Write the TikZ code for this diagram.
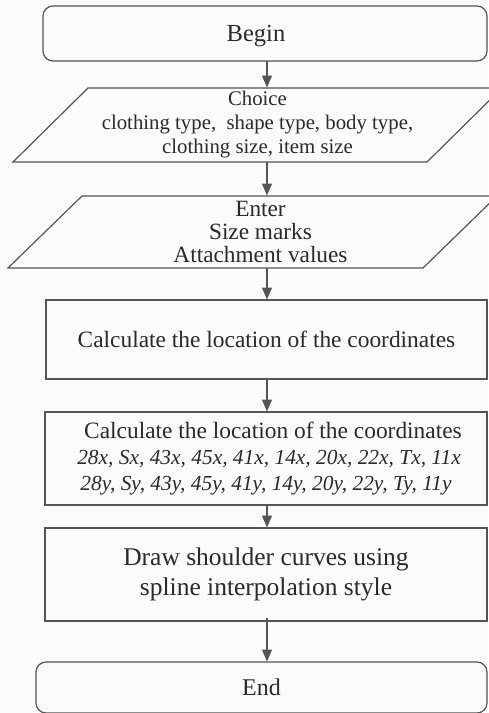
\documentclass[tikz,border=0pt]{standalone}
\usepackage{fontspec}
\setmainfont{Liberation Serif}
\usetikzlibrary{arrows.meta,calc}
\definecolor{linec}{HTML}{555555}
\definecolor{textc}{HTML}{2A2A2A}
\definecolor{bgc}{HTML}{FBFBFB}
\begin{document}
\begin{tikzpicture}[x=1pt,y=-1pt,
  every node/.style={text=textc,align=center,inner sep=0pt,outer sep=0pt},
  boxs/.style={draw=linec,line width=1.2pt,rectangle},
  terms/.style={draw=linec,line width=1.2pt,rectangle,rounded corners=10pt},
  iobox/.style={rectangle,draw=none},
  para/.style={draw=linec,line width=1.2pt},
  arr/.style={draw=linec,line width=1.2pt,-{Triangle[length=12pt,width=10pt]},shorten >=0.5pt}]
\fill[bgc] (0,0) rectangle (488,713);
\useasboundingbox (0,0) rectangle (488,713);
\coordinate (ax) at (267,0);
% Begin
\node[terms,minimum width=444pt,minimum height=55pt,font=\fontsize{24.5}{28}\selectfont,text depth=0pt] (begin) at (265,33.5)
  {\hspace*{-18pt}Begin};
% Choice (parallelogram)
\node[iobox,minimum width=414pt,minimum height=74pt,font=\fontsize{20.8}{24}\selectfont] (choice) at (257.5,125)
  {Choice\\ clothing type,\ \ shape type, body type,\\ clothing size, item size};
\draw[para] ($(choice.north west)+(37.5,0)$) -- ($(choice.north east)+(37.5,0)$)
  -- ($(choice.south east)-(37.5,0)$) -- ($(choice.south west)-(37.5,0)$) -- cycle;
% Enter (parallelogram)
\node[iobox,minimum width=415pt,minimum height=72pt,font=\fontsize{23.3}{23}\selectfont] (enter) at (252.5,232)
  {\hspace*{16pt}Enter\\ \hspace*{16pt}Size marks\\ \hspace*{16pt}Attachment values};
\draw[para] ($(enter.north west)+(37,0)$) -- ($(enter.north east)+(37,0)$)
  -- ($(enter.south east)-(37,0)$) -- ($(enter.south west)-(37,0)$) -- cycle;
% Calculate 1
\node[boxs,minimum width=441pt,minimum height=79pt,font=\fontsize{23.4}{27}\selectfont] (calc1) at (266.5,339.5)
  {Calculate the location of the coordinates};
% Calculate 2
\node[boxs,minimum width=442pt,minimum height=93pt,font=\fontsize{23.4}{26}\selectfont] (calc2) at (266,458.5)
  {\hspace*{14pt}Calculate the location of the coordinates\\
   \hspace*{6pt}{\fontsize{21.4}{26}\selectfont\itshape 28x, Sx, 43x, 45x, 41x, 14x, 20x, 22x, Tx, 11x}\\
   {\fontsize{21.4}{26}\selectfont\itshape 28y, Sy, 43y, 45y, 41y, 14y, 20y, 22y, Ty, 11y}};
% Draw
\node[boxs,minimum width=442pt,minimum height=93pt,font=\fontsize{25.5}{30}\selectfont] (drawc) at (266,574.5)
  {Draw shoulder curves using\\ spline interpolation style};
% End
\node[terms,minimum width=451pt,minimum height=51pt,font=\fontsize{24}{28}\selectfont] (endn) at (261.5,687.5)
  {End};
% connectors
\draw[arr] (begin.south -| ax) -- (choice.north -| ax);
\draw[arr] (choice.south -| ax) -- (enter.north -| ax);
\draw[arr] (enter.south -| ax) -- (calc1.north -| ax);
\draw[arr] (calc1.south -| ax) -- (calc2.north -| ax);
\draw[arr] (calc2.south -| ax) -- (drawc.north -| ax);
\draw[arr] ([yshift=3pt]drawc.south -| ax) -- (endn.north -| ax);
\end{tikzpicture}
\end{document}
